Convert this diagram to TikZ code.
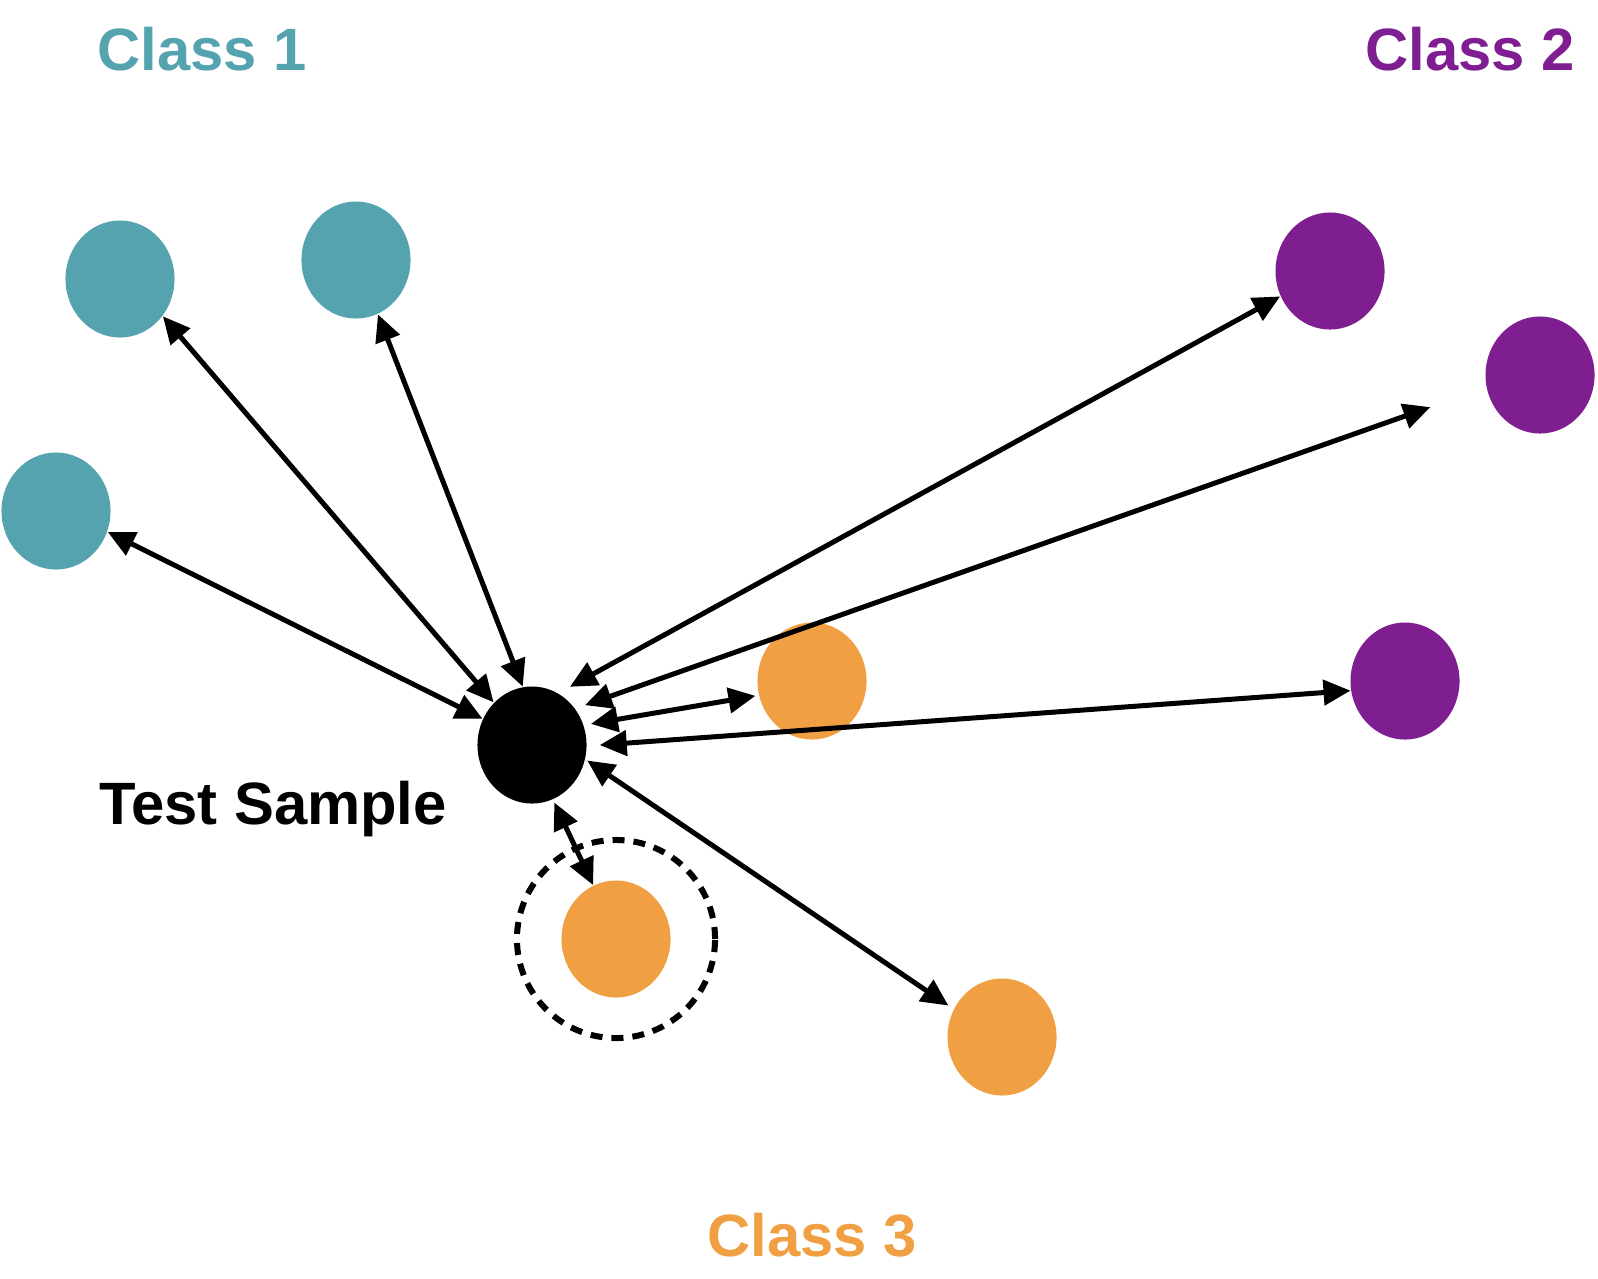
\documentclass[tikz,border=0pt]{standalone}
\usepackage{fontspec}
\setmainfont{Liberation Sans}
\usetikzlibrary{positioning, arrows.meta, shapes.geometric}

\definecolor{cteal}{HTML}{55A3AF}
\definecolor{cpurple}{HTML}{7E1E91}
\definecolor{corange}{HTML}{F0A043}

\begin{document}
\begin{tikzpicture}[x=0.01cm, y=-0.01cm,
    dot/.style={ellipse, inner sep=0pt, minimum width=1.09cm, minimum height=1.17cm},
    link/.style={{Triangle[length=0.27cm, width=0.25cm]}-{Triangle[length=0.27cm, width=0.25cm]}, line width=0.05cm},
    cls/.style={font=\bfseries\fontsize{17}{20}\selectfont, anchor=base}]
\useasboundingbox (0,0) rectangle (1598,1278);

\node[cls, text=cteal] (l1) at (202,70) {Class 1};
\node[cls, text=cpurple] (l2) at (1470,70) {Class 2};
\node[cls, text=corange] (l3) at (812,1256) {Class 3};

\node[dot, fill=cteal] (a1) at (120,279) {};
\node[dot, fill=cteal] (a2) at (356,260) {};
\node[dot, fill=cteal] (a3) at (56,511) {};
\node[dot, fill=cpurple] (b1) at (1330,271) {};
\node[dot, fill=cpurple] (b2) at (1540,375) {};
\node[dot, fill=cpurple] (b3) at (1405,681) {};
\node[dot, fill=corange] (c1) at (812,681) {};
\node[dot, fill=corange] (c2) at (616,939) {};
\node[dot, fill=corange] (c3) at (1002,1037) {};
\node[dot, fill=black] (x) at (532,745) {};
\node[font=\bfseries\fontsize{17}{20}\selectfont, anchor=base] (xl) at (273,824) {Test Sample};

\draw[line width=0.06cm, dash pattern=on 0.12cm off 0.09cm] (c2) circle[radius=0.99cm];

\draw[link] (x.132.9) -- (a1.-41.6);
\draw[link] (x.99.9) -- (a2.-68.9);
\draw[link] (x.152) -- (a3.-22.7);
\draw[link, shorten <=0.13cm] (x.63.8) -- (b1.207.4);
\draw[link, shorten <=0.10cm, shorten >=0.59cm] (x.40.1) -- (b2.193.2);
\draw[link, shorten <=0.07cm, shorten >=0.03cm] (x.21.6) -- (c1.195);
\draw[link, shorten <=0.125cm] (x.-1.7) -- (b3.190.3);
\draw[link, shorten <=0.02cm, shorten >=0.06cm] (x.-15.3) -- (c3.150.9);
\draw[link, shorten <=0.03cm] (x.-69.8) -- (c2.113.3);
\end{tikzpicture}
\end{document}
